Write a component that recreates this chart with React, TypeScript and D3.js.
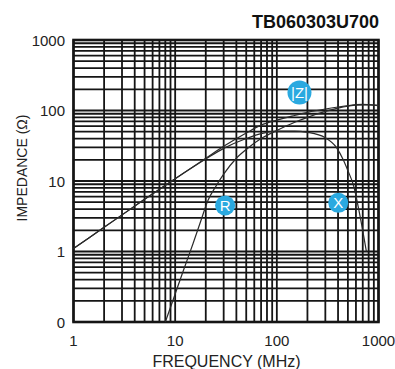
import React from 'react';
import * as d3 from 'd3';

const title = 'TB060303U700';
const xTicks = [1, 10, 100, 1000];
const xTickLabels = ['1', '10', '100', '1000'];
const yTicks = [1000, 100, 10, 1, 0.1];
const yTickLabels = ['1000', '100', '10', '1', '0'];

// |Z| curve (MHz, ohm)
const zFreq = [1, 2, 5, 10, 20, 30, 50, 70, 100, 150, 200, 300, 400, 500, 600, 700, 800, 1000];
const zVal = [1.1, 2.2, 5.5, 10.8, 21, 31, 48, 62, 73, 85, 94, 105, 112, 117, 121, 122, 121, 118];
// R curve
const rFreq = [8, 10, 12, 15, 18, 21, 25, 30, 40, 50, 70, 100, 150, 200, 300, 400, 500, 600, 800, 1000];
const rVal = [0.1, 0.25, 0.53, 1.3, 2.8, 5.3, 8.3, 12.5, 21, 28, 40, 52, 68, 80, 97, 108, 115, 119, 120, 117];
// X curve
const xFreq = [1, 2, 5, 10, 20, 30, 50, 70, 100, 150, 200, 300, 385, 450, 500, 570, 650, 760];
const xVal = [1.1, 2.2, 5.5, 10.8, 20.5, 29, 40, 47, 51, 51, 49, 41, 30, 20, 14, 8.5, 3.5, 1.0];

// annotation badges (MHz, ohm)
const badgeText = ['|Z|', 'R', 'X'];
const badgeFreq = [167, 31, 402];
const badgeVal = [180, 4.5, 4.9];

export default function App() {
  const W = 395, H = 369;
  const x = d3.scaleLog().domain([1, 1000]).range([73.5, 378.5]);
  const y = d3.scaleLog().domain([0.1, 1000]).range([322, 40]);

  const xGrid: number[] = [];
  for (let d = 1; d < 1000; d *= 10) for (let k = 1; k <= 9; k++) xGrid.push(d * k);
  xGrid.push(1000);
  const yGrid: number[] = [];
  for (let d = 0.1; d < 999; d *= 10) for (let k = 1; k <= 9; k++) yGrid.push(d * k);
  yGrid.push(1000);

  const line = d3
    .line<[number, number]>()
    .x((d) => x(d[0]))
    .y((d) => y(d[1]))
    .curve(d3.curveMonotoneX);

  const series = [
    zFreq.map((f, i) => [f, zVal[i]] as [number, number]),
    rFreq.map((f, i) => [f, rVal[i]] as [number, number]),
    xFreq.map((f, i) => [f, xVal[i]] as [number, number]),
  ];

  const [x0, x1] = x.range();
  const [y0, y1] = y.range();
  const font = "'Liberation Sans', Arial, sans-serif";

  return (
    <svg width={W} height={H} style={{ position: 'absolute', left: 0, top: 0, background: '#fff' }}>
      <rect x={0} y={0} width={W} height={H} fill="#fff" />
      <text x={379} y={28} textAnchor="end" fontFamily={font} fontWeight="bold" fontSize={18} fill="#111">
        {title}
      </text>
      <g stroke="#151515" strokeWidth={1.8}>
        {xGrid.map((v, i) => (
          <line key={'vx' + i} x1={x(v)} x2={x(v)} y1={y1} y2={y0} />
        ))}
        {yGrid.map((v, i) => (
          <line key={'hy' + i} x1={x0} x2={x1} y1={y(v)} y2={y(v)} />
        ))}
      </g>
      <rect x={x0} y={y1} width={x1 - x0} height={y0 - y1} fill="none" stroke="#151515" strokeWidth={2.6} />
      <g fill="none" stroke="#2a2a2a" strokeWidth={1.2}>
        {series.map((s, i) => (
          <path key={'s' + i} d={line(s) || ''} />
        ))}
      </g>
      {badgeText.map((t, i) => {
        const r = i === 0 ? 12 : 10;
        return (
          <g key={'b' + i}>
            <circle cx={x(badgeFreq[i])} cy={y(badgeVal[i])} r={r} fill="#2aa9e0" />
            <text
              x={x(badgeFreq[i])}
              y={y(badgeVal[i]) + 5.5}
              textAnchor="middle"
              fontFamily={font}
              fontSize={15}
              fill="#fff"
            >
              {t}
            </text>
          </g>
        );
      })}
      {xTicks.map((v, i) => (
        <text key={'xt' + i} x={x(v)} y={345.5} textAnchor="middle" fontFamily={font} fontSize={15} fill="#222">
          {xTickLabels[i]}
        </text>
      ))}
      {yTicks.map((v, i) => (
        <text key={'yt' + i} x={65} y={y(v) + 5.5} textAnchor="end" fontFamily={font} fontSize={15} fill="#222">
          {yTickLabels[i]}
        </text>
      ))}
      <text x={226.5} y={367} textAnchor="middle" fontFamily={font} fontSize={16} fill="#222">
        FREQUENCY (MHz)
      </text>
      <text
        transform={`translate(27,168) rotate(-90)`}
        textAnchor="middle"
        fontFamily={font}
        fontSize={14}
        fill="#222"
      >
        IMPEDANCE (Ω)
      </text>
    </svg>
  );
}
